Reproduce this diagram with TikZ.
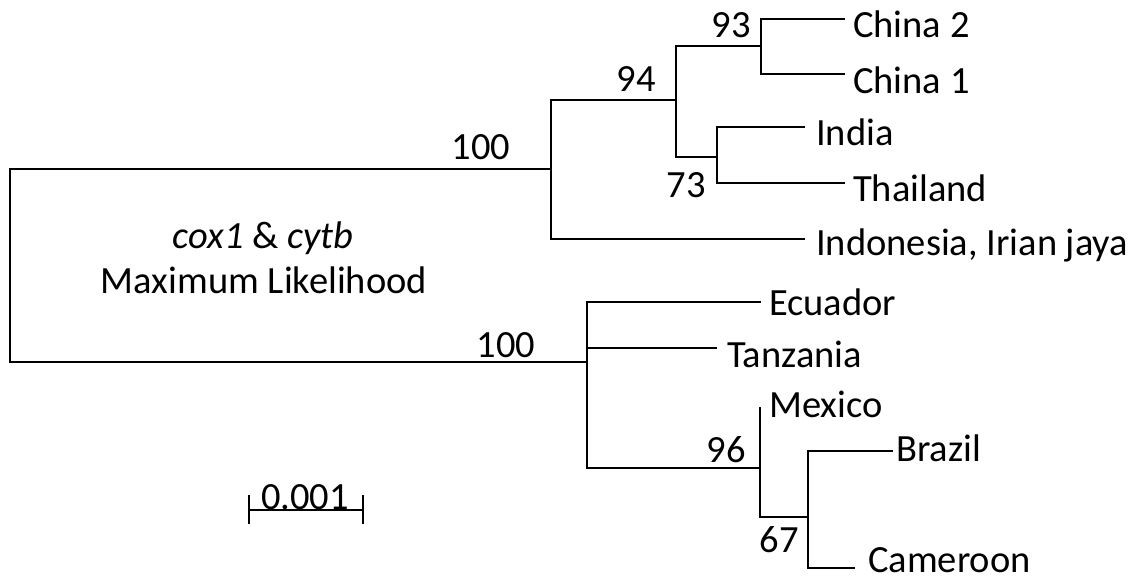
\documentclass[tikz,border=0pt]{standalone}
\usepackage{fontspec}
\setmainfont{Carlito}
\usepackage{tikz}
\usetikzlibrary{calc}

\tikzset{
	branch/.style={line width=2.8pt, line join=miter},
	taxon/.style={anchor=base west, inner sep=0pt, font=\fontsize{38.5}{46}\selectfont},
	support/.style={anchor=base, inner sep=0pt, font=\fontsize{38.5}{46}\selectfont},
}

\begin{document}
\begin{tikzpicture}[x=1pt, y=-1pt] %
		\useasboundingbox (0,0) rectangle (1138,580) ;
		% Internal nodes
		\coordinate (Root) at (10,265) ;
		\coordinate (Asia) at (551,169) ;
		\coordinate (N94) at (676,100) ;
		\coordinate (N93) at (761,46) ;
		\coordinate (N73) at (717,157) ;
		\coordinate (World) at (587,362) ;
		\coordinate (N96) at (760,468) ;
		\coordinate (N67) at (808,517) ;
		% Tips
		\coordinate (tChina2) at (845,19) ;
		\coordinate (tChina1) at (845,74) ;
		\coordinate (tIndia) at (805,127) ;
		\coordinate (tThailand) at (845,183) ;
		\coordinate (tIndonesia) at (805,239) ;
		\coordinate (tEcuador) at (761,302) ;
		\coordinate (tTanzania) at (717,348) ;
		\coordinate (tMexico) at (760,407) ;
		\coordinate (tBrazil) at (893,451) ;
		\coordinate (tCameroon) at (855,568) ;
		% Taxa
		\node[taxon] (China2) at (853,38) {China 2} ;
		\node[taxon] (China1) at (853,94) {China 1} ;
		\node[taxon] (India) at (816,146) {India} ;
		\node[taxon] (Thailand) at (853,202) {Thailand} ;
		\node[taxon] (Indonesia) at (816,255) {Indonesia, Irian jaya} ;
		\node[taxon] (Ecuador) at (769,315) {Ecuador} ;
		\node[taxon] (Tanzania) at (727,367) {Tanzania} ;
		\node[taxon] (Mexico) at (769,417) {Mexico} ;
		\node[taxon] (Brazil) at (896,461) {Brazil} ;
		\node[taxon] (Cameroon) at (868,572) {Cameroon} ;
		% Bootstrap values
		\node[support] (bAsia) at (481,160) {100} ;
		\node[support] (bWorld) at (506,357) {100} ;
		\node[support] (b94) at (636,92) {94} ;
		\node[support] (b93) at (731,38) {93} ;
		\node[support] (b73) at (686,198) {73} ;
		\node[support] (b96) at (726,462) {96} ;
		\node[support] (b67) at (779,552) {67} ;
		% Title
		\node[support] (Genes) at (263,248) {\textit{cox1} \& \textit{cytb}} ;
		\node[support] (Method) at (264,294) {Maximum Likelihood} ;
		% Branches
		\draw[branch] (Root) |- (Asia) ;
		\draw[branch] (Root) |- (World) ;
		\draw[branch] (Asia) |- (N94) ;
		\draw[branch] (Asia) |- (tIndonesia) ;
		\draw[branch] (N94) |- (N93) ;
		\draw[branch] (N94) |- (N73) ;
		\draw[branch] (N93) |- (tChina2) ;
		\draw[branch] (N93) |- (tChina1) ;
		\draw[branch] (N73) |- (tIndia) ;
		\draw[branch] (N73) |- (tThailand) ;
		\draw[branch] (World) |- (tEcuador) ;
		\draw[branch] (World) |- (tTanzania) ;
		\draw[branch] (World) |- (N96) ;
		\draw[branch] (N96) |- (tMexico) ;
		\draw[branch] (N96) |- (N67) ;
		\draw[branch] (N67) |- (tBrazil) ;
		\draw[branch] (N67) |- (tCameroon) ;
		% Scale
		\coordinate (sL) at (249,510) ;
		\coordinate (sR) at (363,510) ;
		\draw[branch] (sL) -- (sR) ;
		\draw[branch] ($(sL)+(0,-15)$) -- ($(sL)+(0,14)$) ;
		\draw[branch] ($(sR)+(0,-15)$) -- ($(sR)+(0,14)$) ;
		\node[support] (Scale) at (305,509) {0.001} ;
	\end{tikzpicture}
\end{document}
